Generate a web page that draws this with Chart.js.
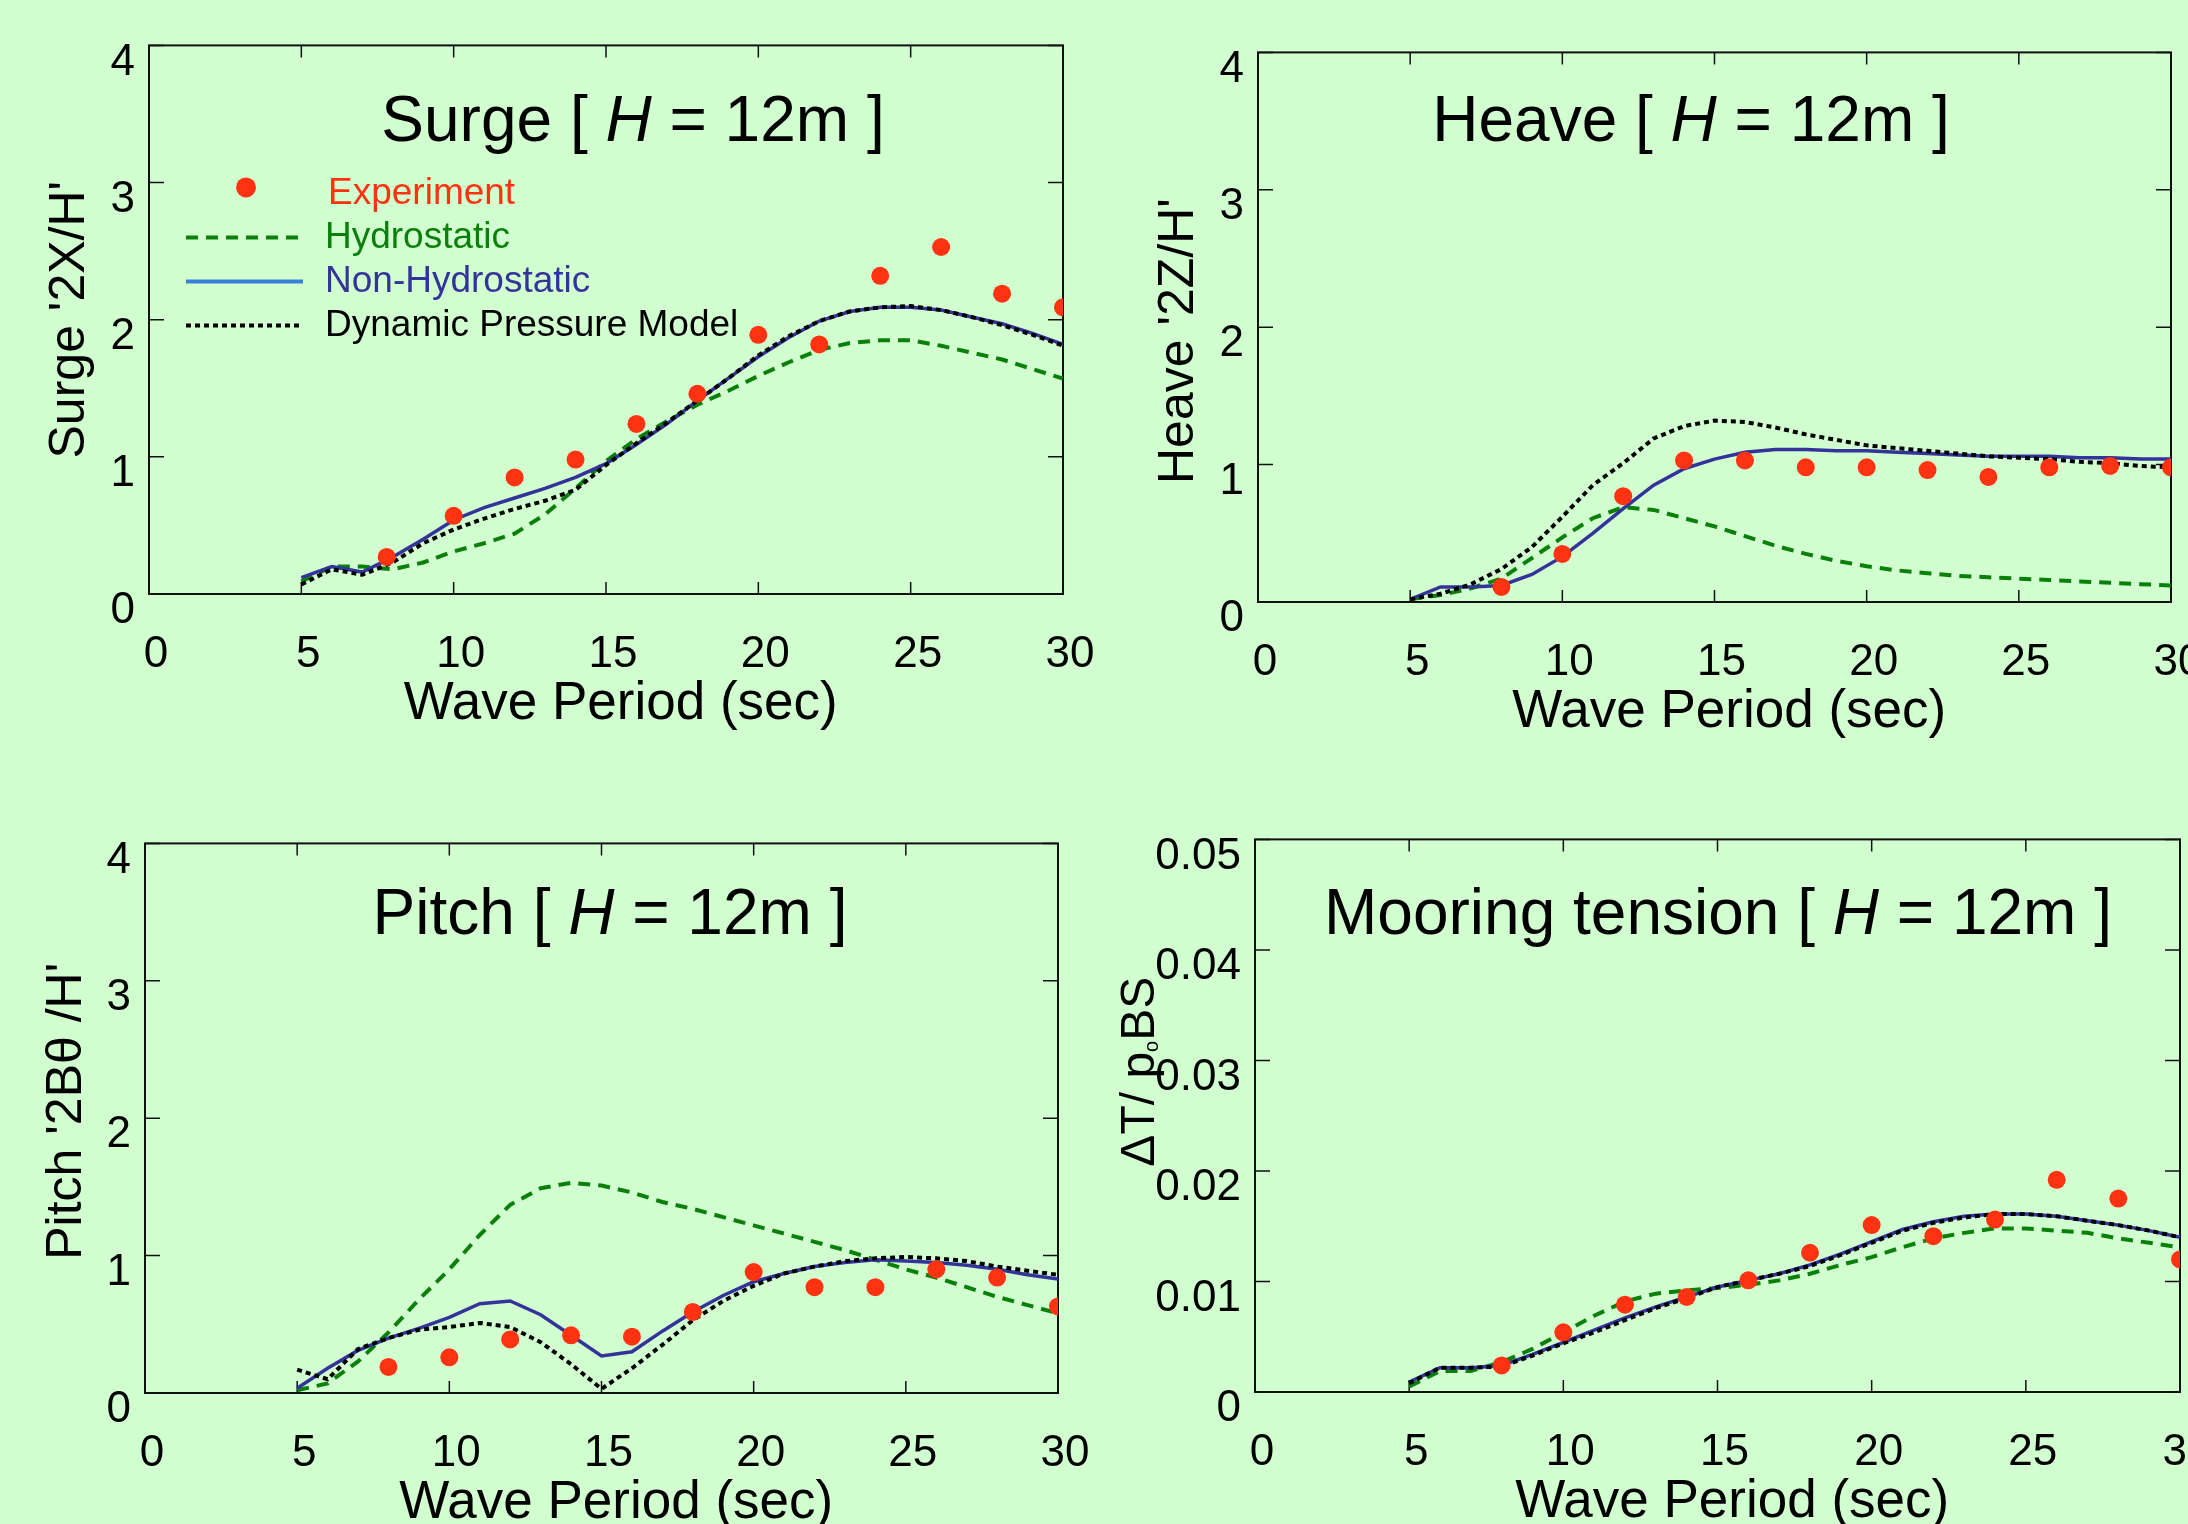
<!DOCTYPE html>
<html>
<head>
<meta charset="utf-8">
<title>Motion response, H = 12m</title>
<script src="https://cdn.jsdelivr.net/npm/chart.js@4.4.1/dist/chart.umd.min.js"></script>
<style>
  html, body { margin: 0; padding: 0; background: #d2ffd0; overflow: hidden; }
  body { width: 2188px; height: 1524px; position: relative; }
  .box { position: absolute; }
</style>
</head>
<body>
<div class="box" id="box-surge"><canvas id="surge"></canvas></div>
<div class="box" id="box-heave"><canvas id="heave"></canvas></div>
<div class="box" id="box-pitch"><canvas id="pitch"></canvas></div>
<div class="box" id="box-mooring"><canvas id="mooring"></canvas></div>
<script>
// wave periods (sec) of the computed curves and of the tank tests
const periods = [5, 6, 7, 8, 9, 10, 11, 12, 13, 14, 15, 16, 17, 18, 19, 20, 21, 22, 23, 24, 25, 26, 27, 28, 29, 30];
const testPeriods = [8, 10, 12, 14, 16, 18, 20, 22, 24, 26, 28, 30];
const surgeTestPeriods = [7.8, 10, 12, 14, 16, 18, 20, 22, 24, 26, 28, 30];

const seriesNames = ['Experiment', 'Hydrostatic', 'Non-Hydrostatic', 'Dynamic Pressure Model'];

const periodTicks = [0, 5, 10, 15, 20, 25, 30];
const motionTicks = [0, 1, 2, 3, 4];
const tensionTicks = [0, 0.01, 0.02, 0.03, 0.04, 0.05];

// surge 2X/H
const surgeExp = [0.27, 0.57, 0.85, 0.98, 1.24, 1.46, 1.89, 1.82, 2.32, 2.53, 2.19, 2.09];
const surgeHydro = [0.09, 0.20, 0.20, 0.18, 0.23, 0.31, 0.37, 0.44, 0.58, 0.77, 0.97, 1.13, 1.26, 1.38, 1.48, 1.59, 1.69, 1.78, 1.83, 1.85, 1.85, 1.81, 1.76, 1.71, 1.64, 1.57];
const surgeNonHydro = [0.12, 0.20, 0.16, 0.27, 0.40, 0.54, 0.63, 0.70, 0.77, 0.85, 0.95, 1.09, 1.24, 1.41, 1.57, 1.73, 1.87, 1.99, 2.06, 2.09, 2.09, 2.07, 2.02, 1.97, 1.90, 1.82];
const surgeDynamic = [0.07, 0.18, 0.14, 0.23, 0.37, 0.47, 0.55, 0.62, 0.68, 0.76, 0.94, 1.10, 1.25, 1.41, 1.57, 1.74, 1.88, 1.99, 2.06, 2.09, 2.10, 2.07, 2.02, 1.96, 1.89, 1.81];

// heave 2Z/H
const heaveExp = [0.11, 0.35, 0.77, 1.03, 1.03, 0.98, 0.98, 0.96, 0.91, 0.98, 0.99, 0.98];
const heaveHydro = [0.02, 0.05, 0.10, 0.17, 0.32, 0.47, 0.61, 0.69, 0.67, 0.61, 0.55, 0.48, 0.41, 0.35, 0.30, 0.26, 0.23, 0.21, 0.19, 0.18, 0.17, 0.16, 0.15, 0.14, 0.13, 0.12];
const heaveNonHydro = [0.02, 0.11, 0.11, 0.12, 0.20, 0.33, 0.50, 0.68, 0.85, 0.97, 1.04, 1.09, 1.11, 1.11, 1.10, 1.10, 1.09, 1.08, 1.07, 1.06, 1.06, 1.06, 1.05, 1.05, 1.04, 1.04];
const heaveDynamic = [0.02, 0.06, 0.13, 0.24, 0.40, 0.62, 0.85, 1.01, 1.19, 1.28, 1.32, 1.31, 1.27, 1.22, 1.18, 1.14, 1.12, 1.10, 1.08, 1.06, 1.05, 1.04, 1.02, 1.01, 0.99, 0.98];

// pitch 2B.theta/H
const pitchExp = [0.19, 0.26, 0.39, 0.42, 0.41, 0.59, 0.88, 0.77, 0.77, 0.90, 0.84, 0.63];
const pitchHydro = [0.02, 0.07, 0.23, 0.44, 0.68, 0.90, 1.15, 1.37, 1.49, 1.53, 1.51, 1.46, 1.39, 1.34, 1.28, 1.22, 1.16, 1.10, 1.04, 0.97, 0.90, 0.84, 0.77, 0.70, 0.64, 0.58];
const pitchNonHydro = [0.035, 0.18, 0.31, 0.40, 0.47, 0.55, 0.65, 0.67, 0.57, 0.42, 0.27, 0.30, 0.45, 0.59, 0.71, 0.81, 0.87, 0.92, 0.95, 0.97, 0.96, 0.95, 0.93, 0.90, 0.86, 0.83];
const pitchDynamic = [0.17, 0.10, 0.32, 0.40, 0.46, 0.48, 0.51, 0.48, 0.37, 0.21, 0.03, 0.18, 0.35, 0.53, 0.67, 0.78, 0.87, 0.92, 0.96, 0.98, 0.99, 0.98, 0.96, 0.92, 0.89, 0.86];

// mooring tension
const mooringExp = [0.0024, 0.0054, 0.0079, 0.0086, 0.0101, 0.0126, 0.0151, 0.0141, 0.0156, 0.0192, 0.0175, 0.0120];
const mooringHydro = [0.0005, 0.0019, 0.0019, 0.0027, 0.0039, 0.0054, 0.0069, 0.0082, 0.0089, 0.0092, 0.0094, 0.0097, 0.0101, 0.0107, 0.0115, 0.0122, 0.0131, 0.0139, 0.0144, 0.0148, 0.0148, 0.0146, 0.0144, 0.0139, 0.0135, 0.0131];
const mooringNonHydro = [0.0009, 0.0022, 0.0022, 0.0024, 0.0034, 0.0045, 0.0056, 0.0067, 0.0077, 0.0086, 0.0095, 0.0101, 0.0107, 0.0115, 0.0125, 0.0136, 0.0147, 0.0154, 0.0159, 0.0161, 0.0161, 0.0159, 0.0155, 0.0151, 0.0146, 0.0140];
const mooringDynamic = [0.0008, 0.0022, 0.0022, 0.0023, 0.0033, 0.0044, 0.0054, 0.0065, 0.0076, 0.0085, 0.0095, 0.0101, 0.0107, 0.0114, 0.0124, 0.0135, 0.0146, 0.0153, 0.0158, 0.0161, 0.0161, 0.0159, 0.0155, 0.0151, 0.0146, 0.0140];

const RED = '#ff3311';
const GREEN = '#0a800a';
const NAVY = '#33339a';
const SKY = '#3a7fd8';
const FONT = "'Liberation Sans', Arial, sans-serif";

Chart.defaults.font.family = FONT;
Chart.defaults.color = '#000';

const PAD_TOP = 40;
const PAD_RIGHT = 60;
const X_AXIS_H = 142;

function pts(xs, ys) {
    return xs.map((x, i) => ({ x: x, y: ys[i] }));
}

function makeSets(expX, exp, hydro, nonHydro, dynamic) {
    return [
        { label: seriesNames[0], data: pts(expX, exp), showLine: false, pointRadius: 9,
          pointBackgroundColor: RED, pointBorderWidth: 0, order: 0, textColor: RED, swatch: RED },
        { label: seriesNames[1], data: pts(periods, hydro), showLine: true, borderColor: GREEN,
          borderWidth: 4, borderDash: [12, 8], pointRadius: 0, order: 3, textColor: GREEN, swatch: GREEN },
        { label: seriesNames[2], data: pts(periods, nonHydro), showLine: true, borderColor: NAVY,
          borderWidth: 3.5, pointRadius: 0, order: 2, textColor: NAVY, swatch: SKY },
        { label: seriesNames[3], data: pts(periods, dynamic), showLine: true, borderColor: '#000',
          borderWidth: 4, borderDash: [5, 4], pointRadius: 0, order: 1, textColor: '#000', swatch: '#000' }
    ];
}

// box round the plot with inward ticks on all four sides
const frame = {
    id: 'frame',
    beforeDatasetsDraw(chart) {
        const { ctx, chartArea: a, scales } = chart;
        ctx.save();
        ctx.strokeStyle = '#111';
        ctx.lineWidth = 2;
        ctx.strokeRect(a.left, a.top, a.right - a.left, a.bottom - a.top);
        ctx.beginPath();
        scales.x.ticks.forEach(t => {
            const px = scales.x.getPixelForValue(t.value);
            ctx.moveTo(px, a.bottom); ctx.lineTo(px, a.bottom - 12);
            ctx.moveTo(px, a.top); ctx.lineTo(px, a.top + 12);
        });
        scales.y.ticks.forEach(t => {
            const py = scales.y.getPixelForValue(t.value);
            ctx.moveTo(a.left, py); ctx.lineTo(a.left + 15, py);
            ctx.moveTo(a.right, py); ctx.lineTo(a.right - 15, py);
        });
        ctx.lineWidth = 1.5;
        ctx.stroke();
        ctx.restore();
    }
};

// "Name [ H = 12m ]" with italic H
const panelTitle = {
    id: 'panelTitle',
    afterDraw(chart, args, opts) {
        if (!opts.name) return;
        const { ctx, chartArea: a } = chart;
        const parts = [
            { t: opts.name + ' [ ', f: '64px ' + FONT },
            { t: 'H', f: 'italic 64px ' + FONT },
            { t: ' = 12m ]', f: '64px ' + FONT }
        ];
        ctx.save();
        ctx.fillStyle = '#000';
        ctx.textBaseline = 'middle';
        let total = 0;
        parts.forEach(p => { ctx.font = p.f; p.w = ctx.measureText(p.t).width; total += p.w; });
        let x = a.left + opts.dx - total / 2;
        const y = a.top + opts.dy;
        parts.forEach(p => { ctx.font = p.f; ctx.fillText(p.t, x, y); x += p.w; });
        ctx.restore();
    }
};

// legend inside the surge plot
const insetLegend = {
    id: 'insetLegend',
    afterDraw(chart, args, opts) {
        if (!opts.show) return;
        const { ctx, chartArea: a } = chart;
        ctx.save();
        ctx.font = '37px ' + FONT;
        ctx.textBaseline = 'middle';
        chart.data.datasets.forEach((ds, i) => {
            const y = a.top + opts.rows[i];
            if (ds.showLine === false) {
                ctx.fillStyle = ds.swatch;
                ctx.beginPath();
                ctx.arc(a.left + opts.dotX, y - 6, 10, 0, Math.PI * 2);
                ctx.fill();
            } else {
                ctx.strokeStyle = ds.swatch;
                ctx.lineWidth = 4;
                ctx.setLineDash(ds.borderDash || []);
                ctx.beginPath();
                ctx.moveTo(a.left + opts.lineX0, y);
                ctx.lineTo(a.left + opts.lineX1, y);
                ctx.stroke();
                ctx.setLineDash([]);
            }
            ctx.fillStyle = ds.textColor;
            ctx.fillText(ds.label, a.left + opts.textX + (i === 0 ? 3 : 0), y);
        });
        ctx.restore();
    }
};

// rotated y title with a small subscript, drawn by hand
const sideTitle = {
    id: 'sideTitle',
    afterDraw(chart, args, opts) {
        if (!opts.parts) return;
        const { ctx, chartArea: a } = chart;
        ctx.save();
        ctx.fillStyle = '#000';
        ctx.textBaseline = 'alphabetic';
        let total = 0;
        opts.parts.forEach(p => { ctx.font = p.size + 'px ' + FONT; p.w = ctx.measureText(p.t).width; total += p.w; });
        ctx.translate(a.left - opts.dx, (a.top + a.bottom) / 2 + opts.dy);
        ctx.rotate(-Math.PI / 2);
        let x = -total / 2;
        opts.parts.forEach(p => {
            ctx.font = p.size + 'px ' + FONT;
            ctx.fillText(p.t, x, 17 + (p.drop || 0));
            x += p.w;
        });
        ctx.restore();
    }
};

const panels = [
    { id: 'surge', plot: { l: 149, t: 45, r: 1063, b: 594 }, yAxisW: 109, yTicks: motionTicks,
      yTitle: "Surge '2X/H'", name: 'Surge', dx: 484, dy: 78,
      sets: makeSets(surgeTestPeriods, surgeExp, surgeHydro, surgeNonHydro, surgeDynamic),
      legend: { show: true, dotX: 97, lineX0: 37, lineX1: 154, textX: 176, rows: [148, 192, 236, 280] } },
    { id: 'heave', plot: { l: 1258, t: 52, r: 2171, b: 602 }, yAxisW: 109, yTicks: motionTicks,
      yTitle: "Heave '2Z/H'  ", name: 'Heave', dx: 433, dy: 71,
      sets: makeSets(testPeriods, heaveExp, heaveHydro, heaveNonHydro, heaveDynamic) },
    { id: 'pitch', plot: { l: 145, t: 843, r: 1058, b: 1393 }, yAxisW: 108, yTicks: motionTicks,
      yTitle: " Pitch '2Bθ /H'", name: 'Pitch', dx: 465, dy: 73,
      sets: makeSets(testPeriods, pitchExp, pitchHydro, pitchNonHydro, pitchDynamic) },
    { id: 'mooring', plot: { l: 1255, t: 839, r: 2180, b: 1392 }, yAxisW: 165, yTicks: tensionTicks,
      yTitle: null, name: 'Mooring tension', dx: 463, dy: 77,
      side: { dx: 118, dy: -44, parts: [{ t: 'ΔT/ p', size: 48 }, { t: 'o', size: 20, drop: 4 }, { t: 'BS', size: 48 }] },
      sets: makeSets(testPeriods, mooringExp, mooringHydro, mooringNonHydro, mooringDynamic) }
];

panels.forEach(p => {
    const box = document.getElementById('box-' + p.id);
    const w = p.plot.r - p.plot.l;
    const h = p.plot.b - p.plot.t;
    box.style.left = (p.plot.l - p.yAxisW) + 'px';
    box.style.top = (p.plot.t - PAD_TOP) + 'px';
    box.style.width = (p.yAxisW + w + PAD_RIGHT) + 'px';
    box.style.height = (PAD_TOP + h + X_AXIS_H) + 'px';

    const yTicks = p.yTicks;
    new Chart(document.getElementById(p.id), {
        type: 'scatter',
        data: { datasets: p.sets },
        options: {
            responsive: true,
            maintainAspectRatio: false,
            animation: false,
            events: [],
            layout: { padding: { top: PAD_TOP, right: PAD_RIGHT, left: 0, bottom: 0 } },
            elements: { line: { tension: 0, borderCapStyle: 'butt' } },
            plugins: {
                legend: { display: false },
                tooltip: { enabled: false },
                panelTitle: { name: p.name, dx: p.dx, dy: p.dy },
                insetLegend: p.legend || { show: false },
                sideTitle: p.side || {}
            },
            scales: {
                x: {
                    type: 'linear',
                    min: periodTicks[0],
                    max: periodTicks[periodTicks.length - 1],
                    afterBuildTicks: s => { s.ticks = periodTicks.map(v => ({ value: v })); },
                    afterFit: s => { s.height = X_AXIS_H; },
                    grid: { display: false, drawTicks: false },
                    border: { display: false },
                    ticks: { autoSkip: false, maxRotation: 0, padding: 34, labelOffset: 7,
                             font: { size: 44 }, color: '#000', callback: v => String(v) },
                    title: { display: true, text: '  Wave Period (sec)', font: { size: 53 },
                             color: '#000', padding: 0 }
                },
                y: {
                    type: 'linear',
                    min: yTicks[0],
                    max: yTicks[yTicks.length - 1],
                    afterBuildTicks: s => { s.ticks = yTicks.map(v => ({ value: v })); },
                    afterFit: s => { s.width = p.yAxisW; },
                    grid: { display: false, drawTicks: false },
                    border: { display: false },
                    ticks: { autoSkip: false, padding: 14, labelOffset: 17,
                             font: { size: 44 }, color: '#000', callback: v => String(v) },
                    title: { display: !!p.yTitle, text: p.yTitle || '', font: { size: 50 },
                             color: '#000', padding: 0 }
                }
            }
        },
        plugins: [frame, panelTitle, insetLegend, sideTitle]
    });
});
</script>
</body>
</html>
